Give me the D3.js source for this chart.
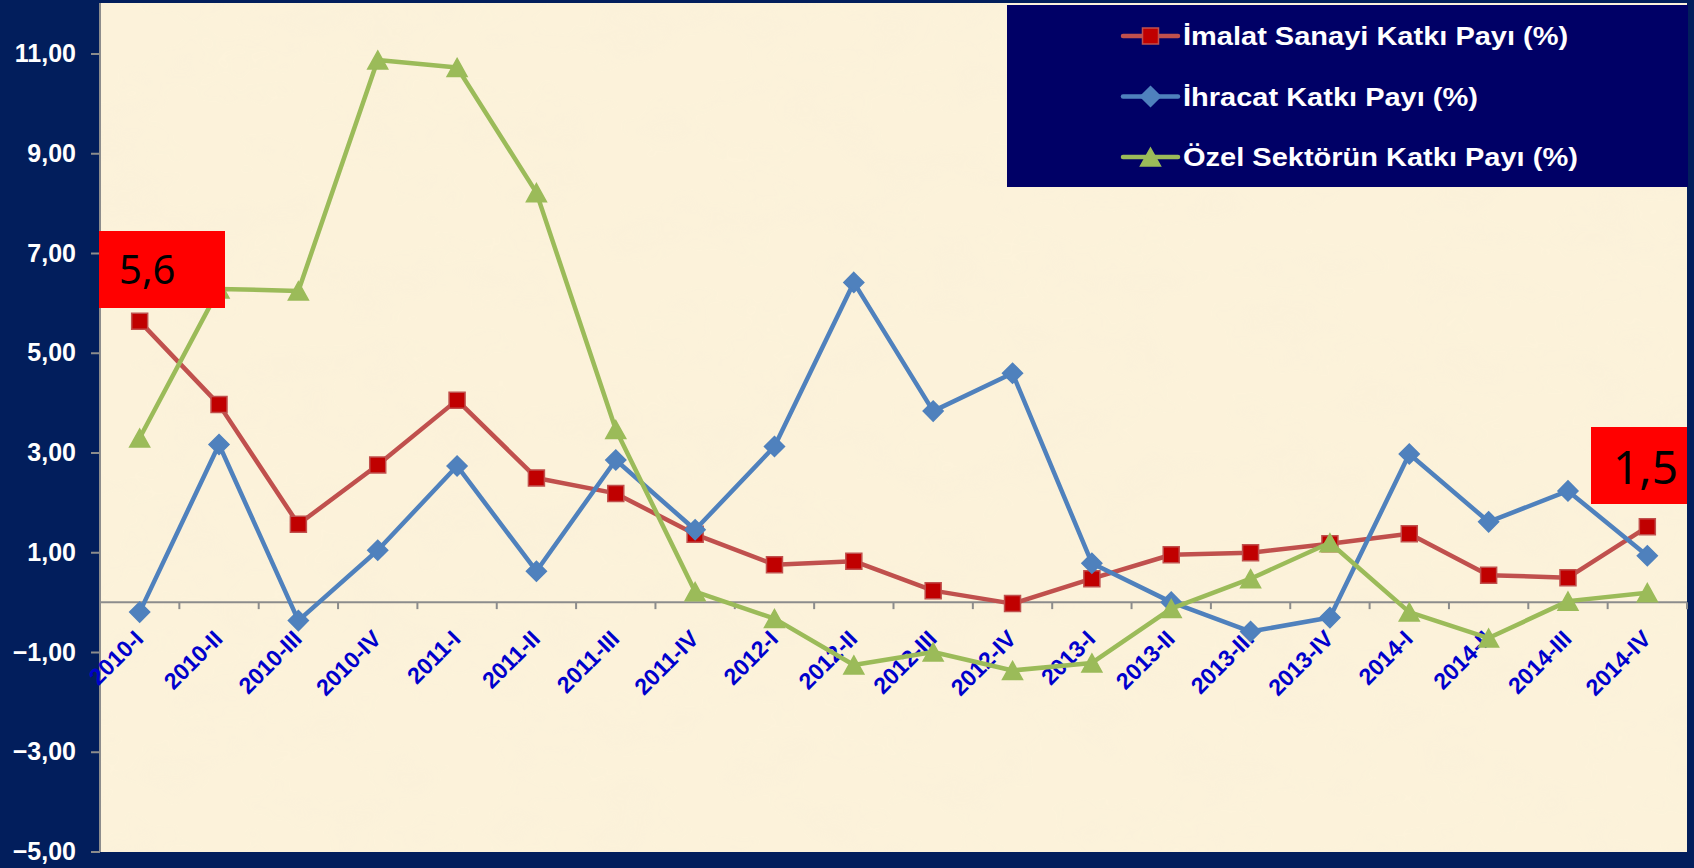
<!DOCTYPE html>
<html>
<head>
<meta charset="utf-8">
<script src="https://cdn.jsdelivr.net/npm/d3@7"></script>
<style>
  body { margin: 0; background: #021e5c; }
  svg { display: block; }
</style>
</head>
<body>
<svg id="chart" width="1694" height="868"></svg>
<script>
// quarters on the x axis
var categories = ["2010-I", "2010-II", "2010-III", "2010-IV",
                  "2011-I", "2011-II", "2011-III", "2011-IV",
                  "2012-I", "2012-II", "2012-III", "2012-IV",
                  "2013-I", "2013-II", "2013-III", "2013-IV",
                  "2014-I", "2014-II", "2014-III", "2014-IV"];

// series values (%)
var imalat  = [5.63, 3.96, 1.56, 2.75, 4.05, 2.49, 2.18, 1.36, 0.75, 0.82,
               0.23, -0.03, 0.47, 0.95, 0.99, 1.17, 1.37, 0.54, 0.49, 1.51];
var ihracat = [-0.20, 3.16, -0.37, 1.04, 2.73, 0.62, 2.85, 1.45, 3.12, 6.41,
               3.83, 4.59, 0.78, 0.00, -0.59, -0.31, 2.97, 1.61, 2.23, 0.93];
var ozel    = [3.29, 6.28, 6.24, 10.87, 10.72, 8.21, 3.46, 0.21, -0.33, -1.26,
               -1.00, -1.37, -1.22, -0.13, 0.47, 1.19, -0.20, -0.72, 0.02, 0.19];

var seriesNames = ["İmalat Sanayi Katkı Payı (%)", "İhracat Katkı Payı (%)", "Özel Sektörün Katkı Payı (%)"];
var yTicks = [-5, -3, -1, 1, 3, 5, 7, 9, 11];

// the two red call-outs: first and last value of İmalat
var callouts = [{i: 0, label: "5,6"}, {i: 19, label: "1,5"}];

var svg = d3.select("#chart");
var width = 1694, height = 868;
var plot = {left: 100, right: 1687, top: 3, bottom: 852};

var x = d3.scaleBand().domain(categories).range([plot.left, plot.right]);
var y = d3.scaleLinear().domain([-5, 11]).range([851.5, 53.5]);
var cx = function(d, i) { return x(categories[i]) + x.bandwidth() / 2; };

// background + parchment texture
svg.append("rect").attr("width", width).attr("height", height).attr("fill", "#021e5c");

var defs = svg.append("defs");
var f = defs.append("filter").attr("id", "paper").attr("x", 0).attr("y", 0).attr("width", 1).attr("height", 1);
f.append("feTurbulence").attr("type", "fractalNoise").attr("baseFrequency", "0.012 0.02")
  .attr("numOctaves", 3).attr("seed", 7).attr("result", "noise");
f.append("feColorMatrix").attr("in", "noise").attr("type", "matrix")
  .attr("values", "0 0 0 0 0.93  0 0 0 0 0.86  0 0 0 0 0.70  0 0 0 -1.6 0.9");

svg.append("rect")
  .attr("x", plot.left).attr("y", plot.top)
  .attr("width", plot.right - plot.left).attr("height", plot.bottom - plot.top)
  .attr("fill", "#fcf2da");
svg.append("rect")
  .attr("x", plot.left).attr("y", plot.top)
  .attr("width", plot.right - plot.left).attr("height", plot.bottom - plot.top)
  .attr("filter", "url(#paper)")
  .attr("opacity", 0.3);

// y axis
var yAxis = svg.append("g").attr("transform", "translate(" + plot.left + ",0)")
  .call(d3.axisLeft(y).tickValues(yTicks).tickSize(9).tickPadding(15)
        .tickFormat(function(d) { return d3.format(".2f")(d).replace(".", ","); }));
yAxis.select(".domain").attr("stroke", "#8c8c8c").attr("stroke-width", 2)
  .attr("d", "M0," + plot.top + "V" + plot.bottom);
yAxis.selectAll(".tick line").attr("stroke", "#8c8c8c").attr("stroke-width", 2);
yAxis.selectAll(".tick text")
  .attr("fill", "#ffffff")
  .style("font-family", "'Liberation Sans', Arial, sans-serif")
  .style("font-weight", "bold")
  .style("font-size", "25px");

// x axis on the zero line
var xAxis = svg.append("g").attr("transform", "translate(0," + y(0) + ")");
xAxis.append("line")
  .attr("x1", plot.left).attr("x2", plot.right)
  .attr("stroke", "#8c8c8c").attr("stroke-width", 2);
xAxis.selectAll(".xt")
  .data(categories)
  .enter().append("line")
  .attr("class", "xt")
  .attr("x1", function(d) { return x(d) + x.bandwidth(); })
  .attr("x2", function(d) { return x(d) + x.bandwidth(); })
  .attr("y1", 0).attr("y2", 7)
  .attr("stroke", "#8c8c8c").attr("stroke-width", 2);

svg.append("g").selectAll("text")
  .data(categories)
  .enter().append("text")
  .attr("transform", function(d, i) { return "translate(" + (cx(d, i) + 5) + "," + (y(0) + 38) + ") rotate(-45)"; })
  .attr("text-anchor", "end")
  .attr("fill", "#0000cc")
  .style("font-family", "'Liberation Sans', Arial, sans-serif")
  .style("font-weight", "bold")
  .style("font-size", "23px")
  .text(function(d) { return d; });

// series
var series = [
  {name: seriesNames[0], values: imalat,  line: "#c0504d", fill: "#c00000", stroke: "#c0504d", shape: "square"},
  {name: seriesNames[1], values: ihracat, line: "#4f81bd", fill: "#4f81bd", stroke: "#4f81bd", shape: "diamond"},
  {name: seriesNames[2], values: ozel,    line: "#9bbb59", fill: "#9bbb59", stroke: "#9bbb59", shape: "triangle"}
];

function markerPath(shape) {
  if (shape === "square") return "M-8,-8H8V8H-8Z";
  if (shape === "diamond") return "M0,-10L10,0L0,10L-10,0Z";
  return "M0,-9L10,9L-10,9Z";
}

var line = d3.line()
  .x(function(d, i) { return cx(d, i); })
  .y(function(d) { return y(d); });

series.forEach(function(s) {
  var g = svg.append("g");
  g.append("path")
    .attr("d", line(s.values))
    .attr("fill", "none")
    .attr("stroke", s.line)
    .attr("stroke-width", 4.5)
    .attr("stroke-linejoin", "round");
  g.selectAll("path.m")
    .data(s.values)
    .enter().append("path")
    .attr("class", "m")
    .attr("transform", function(d, i) { return "translate(" + cx(d, i) + "," + y(d) + ")"; })
    .attr("d", markerPath(s.shape))
    .attr("fill", s.fill)
    .attr("stroke", s.stroke)
    .attr("stroke-width", 1.5);
});

// legend
var legend = svg.append("g");
legend.append("rect")
  .attr("x", 1007).attr("y", 5).attr("width", 681).attr("height", 182)
  .attr("fill", "#000066");
var legendRows = legend.selectAll("g.row")
  .data(series)
  .enter().append("g")
  .attr("class", "row")
  .attr("transform", function(d, i) { return "translate(1123," + (36 + i * 60.5) + ")"; });
legendRows.append("line")
  .attr("x1", 0).attr("x2", 55)
  .attr("stroke", function(d) { return d.line; })
  .attr("stroke-width", 4.5)
  .attr("stroke-linecap", "round");
legendRows.append("path")
  .attr("transform", "translate(27.5,0)")
  .attr("d", function(d) { return markerPath(d.shape); })
  .attr("fill", function(d) { return d.fill; })
  .attr("stroke", function(d) { return d.stroke; })
  .attr("stroke-width", 1.5);
legendRows.append("text")
  .attr("x", 60)
  .attr("dy", "0.36em")
  .attr("fill", "#ffffff")
  .style("font-family", "'Liberation Sans', Arial, sans-serif")
  .style("font-weight", "bold")
  .style("font-size", "25px")
  .text(function(d) { return d.name; })
  .each(function() {
    var w = this.getComputedTextLength();
    d3.select(this).attr("textLength", w * 1.16).attr("lengthAdjust", "spacingAndGlyphs");
  });

// red call-out boxes
var boxes = [
  {x: 99, y: 231, w: 126, h: 77, size: 40, tx: 119, ty: 284},
  {x: 1591, y: 427, w: 96, h: 77, size: 46, tx: 1613, ty: 484}
];
callouts.forEach(function(c, k) {
  var b = boxes[k];
  svg.append("rect").attr("x", b.x).attr("y", b.y).attr("width", b.w).attr("height", b.h).attr("fill", "#ff0000");
  svg.append("text")
    .attr("x", b.tx).attr("y", b.ty)
    .attr("fill", "#000000")
    .style("font-family", "'Noto Sans', 'Open Sans', sans-serif")
    .style("font-size", b.size + "px")
    .text(c.label);
});
</script>
</body>
</html>
